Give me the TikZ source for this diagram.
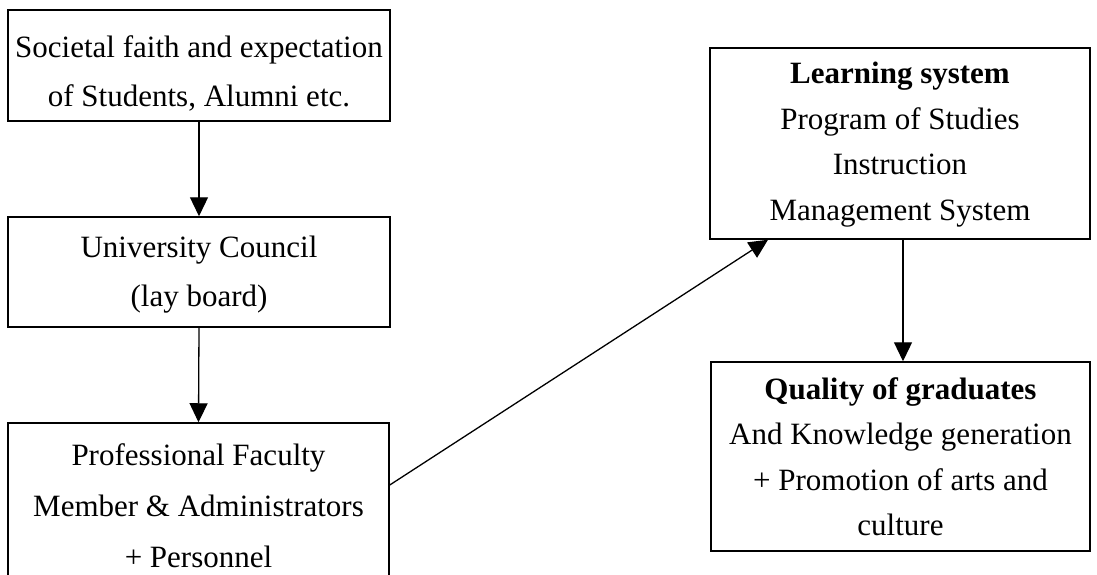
\documentclass[tikz,border=0pt]{standalone}
\usepackage{fontspec}
\setmainfont{Liberation Serif}
\usetikzlibrary{arrows.meta}
\tikzset{
  box/.style={draw, line width=1.5pt, rectangle, inner sep=0pt},
  txt/.style={align=center, inner sep=0pt},
  wide/.style={font=\fontsize{31}{49}\selectfont},
  tight/.style={font=\fontsize{31}{45.5}\selectfont},
  arr/.style={line width=1.3pt, -{Triangle[length=19pt,width=18pt]}}
}
\begin{document}
\begin{tikzpicture}[x=1pt,y=-1pt]
\clip (0,0) rectangle (1097,575);
\fill[white] (0,0) rectangle (1097,575);
\node[box, minimum width=382pt, minimum height=111pt] (b1) at (199,65.5) {};
\node[txt, wide] (t1) at ([yshift=-8pt]b1.center)
  {Societal faith and expectation\\of Students, Alumni etc.};
\node[box, minimum width=382pt, minimum height=110pt] (b2) at (199,272) {};
\node[txt, wide] (t2) at ([yshift=-3pt]b2.center)
  {University Council\\(lay board)};
\node[box, minimum width=381pt, minimum height=177pt] (b3) at (198.5,511.5) {};
\node[txt, font=\fontsize{31}{51}\selectfont] (t3) at ([yshift=6pt]b3.center)
  {Professional Faculty\\Member \& Administrators\\+ Personnel};
\node[box, minimum width=380pt, minimum height=191pt] (b4) at (900,143.5) {};
\node[txt, tight] (t4) at ([yshift=-1pt]b4.center)
  {\textbf{Learning system}\\Program of Studies\\Instruction\\Management System};
\node[box, minimum width=379pt, minimum height=189pt] (b5) at (900.5,456.5) {};
\node[txt, tight] (t5) at (b5.center)
  {\textbf{Quality of graduates}\\And Knowledge generation\\+ Promotion of arts and\\culture};
\coordinate (cx) at (903,0);
\draw[arr] (b1.south) -- (b2.north);
\draw[arr] (b2.south) -- (b3.north);
\draw[arr] (b4.south -| cx) -- (b5.north -| cx);
\draw[arr] ([yshift=26.5pt]b3.east) -- ([xshift=-132pt]b4.south);
\end{tikzpicture}
\end{document}
